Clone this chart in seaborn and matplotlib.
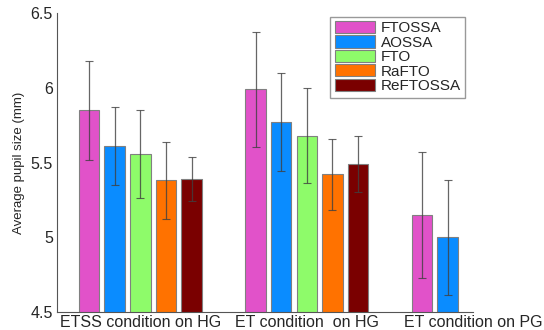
import numpy as np
import pandas as pd
import matplotlib
matplotlib.use("Agg")
import matplotlib.pyplot as plt
import seaborn as sns

conditions = ["ETSS condition on HG", "ET condition  on HG", "ET condition on PG"]
methods = ["FTOSSA", "AOSSA", "FTO", "RaFTO", "ReFTOSSA"]
colors = ["#E152C9", "#0A8CFF", "#8EFB6A", "#FF7200", "#7A0000"]

# mean pupil size per method, one list per condition (nan = not measured)
etss_hg = [5.85, 5.61, 5.56, 5.38, 5.39]
et_hg = [5.99, 5.77, 5.68, 5.42, 5.49]
et_pg = [5.15, 5.00, np.nan, np.nan, np.nan]

# error bar half-lengths
etss_hg_err = [0.33, 0.26, 0.295, 0.26, 0.15]
et_hg_err = [0.385, 0.33, 0.32, 0.24, 0.19]
et_pg_err = [0.42, 0.385, np.nan, np.nan, np.nan]

rows = []
for cond, vals, errs in zip(conditions, [etss_hg, et_hg, et_pg], [etss_hg_err, et_hg_err, et_pg_err]):
    for m, v, e in zip(methods, vals, errs):
        rows.append({"condition": cond, "method": m, "size": v, "err": e})
df = pd.DataFrame(rows)

sns.set_style("white")
plt.rcParams['font.family'] = ['Liberation Sans', 'DejaVu Sans']

fig = plt.figure(figsize=(5.44, 3.3), dpi=100)
ax = fig.add_axes([0.105, 0.055, 0.765, 0.905])

sns.barplot(data=df, x="condition", y="size", hue="method", order=conditions,
            hue_order=methods, palette=colors, errorbar=None, width=0.77, gap=0.2,
            edgecolor="#808080", linewidth=0.8, saturation=1, ax=ax)

# error bars from the drawn bars
for cont, m in zip(ax.containers, methods):
    sub = df[(df["method"] == m) & df["size"].notna()]
    for bar, (_, r) in zip(cont, sub.iterrows()):
        xc = bar.get_x() + bar.get_width() / 2
        ax.errorbar(xc, r["size"], yerr=r["err"], fmt="none", ecolor="#404040",
                    elinewidth=0.9, capsize=3, capthick=0.8, alpha=0.8)

ax.set_ylim(4.5, 6.5)
ax.set_xlim(-0.5, 2.0)
ax.set_yticks([4.5, 5, 5.5, 6, 6.5])
ax.set_yticklabels(["4.5", "5", "5.5", "6", "6.5"])
ax.set_xlabel("")
ax.set_ylabel("Average pupil size (mm)", fontsize=9.5)
ax.tick_params(axis="y", direction="in", length=3, labelsize=11.5, color="#444444", pad=3)
ax.tick_params(axis="x", length=0, labelsize=11.5, pad=2)
for s in ["top", "right"]:
    ax.spines[s].set_visible(False)
for s in ["left", "bottom"]:
    ax.spines[s].set_color("#555555")
    ax.spines[s].set_linewidth(0.8)

ax.legend(loc="upper left", bbox_to_anchor=(0.607, 0.95), bbox_transform=fig.transFigure,
          fontsize=11, frameon=True, fancybox=False, edgecolor="#808080",
          handlelength=2.6, handleheight=0.85, borderpad=0.3, labelspacing=0.0,
          handletextpad=0.4, borderaxespad=0)

fig.savefig("out.png", dpi=100)
